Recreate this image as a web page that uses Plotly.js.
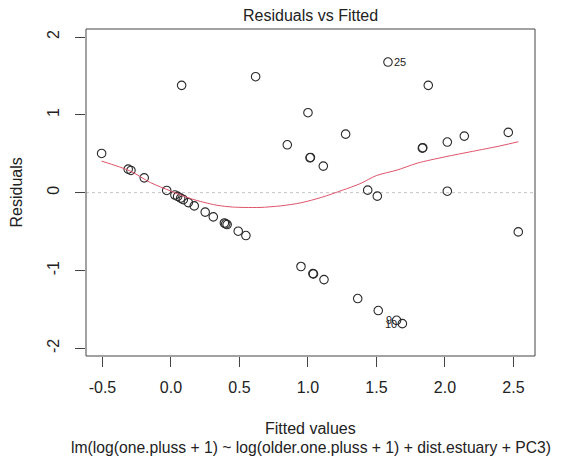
<!DOCTYPE html>
<html>
<head>
<meta charset="utf-8">
<script src="https://cdn.plot.ly/plotly-3.0.1.min.js"></script>
<style>html,body{margin:0;padding:0;background:#fff;}#chart{width:566px;height:461px;}</style>
</head>
<body>
<div id="chart"></div>
<script>
// Fitted values and residuals
const fitted = [-0.506, -0.312, -0.292, -0.195, -0.031, 0.029, 0.049, 0.071, 0.090, 0.127, 0.170, 0.250, 0.309, 0.390, 0.400, 0.410, 0.491, 0.547,
  0.078, 0.618, 0.849, 1.000, 1.015, 1.018, 1.112, 1.275, 1.584, 1.878, 1.835, 1.838, 2.017, 2.141, 2.462, 1.436, 1.506, 2.017, 2.535,
  0.949, 1.036, 1.040, 1.117, 1.363, 1.513, 1.647, 1.689];
const residuals = [0.504, 0.302, 0.285, 0.190, 0.028, -0.030, -0.048, -0.070, -0.090, -0.128, -0.170, -0.250, -0.311, -0.390, -0.400, -0.410, -0.495, -0.551,
  1.379, 1.490, 0.615, 1.027, 0.448, 0.452, 0.341, 0.752, 1.678, 1.379, 0.572, 0.578, 0.650, 0.727, 0.774, 0.032, -0.045, 0.019, -0.504,
  -0.949, -1.040, -1.045, -1.117, -1.361, -1.515, -1.640, -1.683];
// smoother (lowess) curve
const smoothX = [-0.506, -0.30, -0.15, 0.00, 0.15, 0.33, 0.45, 0.54, 0.65, 0.80, 0.95, 1.10, 1.25, 1.38, 1.50, 1.65, 1.80, 2.00, 2.20, 2.40, 2.535];
const smoothY = [0.405, 0.28, 0.13, 0.02, -0.08, -0.16, -0.185, -0.19, -0.19, -0.17, -0.13, -0.06, 0.03, 0.115, 0.22, 0.29, 0.38, 0.46, 0.53, 0.60, 0.654];
// labelled extreme points
const labelIdx = [26, 43, 44];
const labelText = ["25", "9", "10"];
const labelSide = ["right", "left", "left"];
const xTicks = [-0.5, 0.0, 0.5, 1.0, 1.5, 2.0, 2.5];
const xTickText = ["-0.5", "0.0", "0.5", "1.0", "1.5", "2.0", "2.5"];
const yTicks = [-2, -1, 0, 1, 2];
const yTickText = ["-2", "-1", "0", "1", "2"];

const FONT = "Liberation Sans, Arial, Helvetica, sans-serif";
const ink = "#222";

const traces = [
  {
    x: [-0.62, 2.66], y: [0, 0], mode: "lines", hoverinfo: "skip",
    line: {color: "#c4c4c4", width: 1, dash: "dot"}
  },
  {
    x: fitted, y: residuals, mode: "markers",
    marker: {symbol: "circle-open", size: 8.5, color: "#2a2a2a", line: {width: 1.1, color: "#2a2a2a"}}
  },
  {
    x: smoothX, y: smoothY, mode: "lines", line: {color: "#DF536B", width: 1, shape: "spline", smoothing: 0.8}
  }
];

const labelAnns = labelIdx.map((idx, k) => ({
  text: labelText[k], xref: "x", yref: "y", x: fitted[idx], y: residuals[idx],
  xanchor: labelSide[k] === "right" ? "left" : "right", yanchor: "middle",
  xshift: labelSide[k] === "right" ? 4 : -3, showarrow: false,
  font: {family: FONT, size: 11, color: ink}
}));

const layout = {
  width: 566, height: 461,
  margin: {l: 86, r: 31, t: 29, b: 105},
  paper_bgcolor: "#fff", plot_bgcolor: "#fff",
  showlegend: false,
  font: {family: FONT, color: ink, size: 16},
  xaxis: {
    range: [-0.62, 2.657], tickvals: xTicks, ticktext: xTickText,
    ticks: "outside", ticklen: 10, tickcolor: "#444", tickwidth: 1,
    showgrid: false, zeroline: false, showline: false,
    tickfont: {family: FONT, size: 16, color: ink}, ticklabelstandoff: 7
  },
  yaxis: {
    range: [-2.099, 2.103], tickvals: yTicks, ticktext: yTickText, tickangle: -90,
    ticks: "outside", ticklen: 10, tickcolor: "#444", tickwidth: 1,
    showgrid: false, zeroline: false, showline: false,
    tickfont: {family: FONT, size: 16, color: ink}, ticklabelstandoff: 10
  },
  shapes: [
    {type: "rect", xref: "paper", yref: "paper", x0: 0, x1: 1, y0: 0, y1: 1, line: {color: "#444", width: 1}}
  ],
  annotations: [
    {text: "Residuals vs Fitted", xref: "paper", yref: "paper", x: 0.5, y: 1.0428, xanchor: "center", yanchor: "middle", showarrow: false, font: {family: FONT, size: 16, color: ink}},
    {text: "Fitted values", xref: "paper", yref: "paper", x: 0.5, y: -0.2202, xanchor: "center", yanchor: "middle", showarrow: false, font: {family: FONT, size: 16, color: ink}},
    {text: "lm(log(one.pluss + 1) ~ log(older.one.pluss + 1) + dist.estuary + PC3)", xref: "paper", yref: "paper", x: 0.5, y: -0.2783, xanchor: "center", yanchor: "middle", showarrow: false, font: {family: FONT, size: 15.7, color: ink}},
    {text: "Residuals", xref: "paper", yref: "paper", x: -0.1537, y: 0.5, xanchor: "center", yanchor: "middle", textangle: -90, showarrow: false, font: {family: FONT, size: 16, color: ink}}
  ].concat(labelAnns)
};

Plotly.newPlot("chart", traces, layout, {displayModeBar: false, staticPlot: true});
</script>
</body>
</html>
